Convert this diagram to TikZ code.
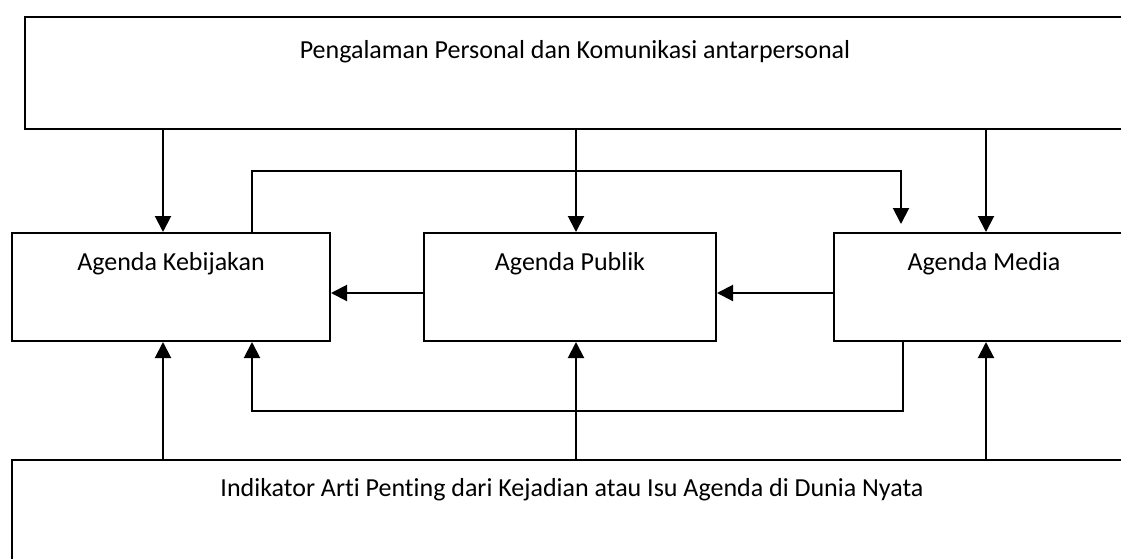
\documentclass[tikz,border=0pt]{standalone}
\usepackage{fontspec}
\setmainfont[Ligatures=NoCommon]{Carlito}
\usetikzlibrary{arrows.meta,calc}
\begin{document}
\begin{tikzpicture}[x=0.5pt,y=-0.5pt,
  line width=1pt,
  box/.style={draw, line width=1pt, rectangle, inner sep=0pt, anchor=north west},
  txt/.style={inner sep=0pt, font=\fontsize{13}{16}\selectfont},
  arr/.style={-{Triangle[length=8pt,width=8pt]}, line width=1pt}]
\useasboundingbox (0,0) rectangle (1121,558);
\clip (0,0) rectangle (1121,558);
% boxes
\node[box, minimum width=550pt, minimum height=56pt] (top) at (24,16) {};
\node[box, minimum width=159pt, minimum height=54pt] (keb) at (11,232) {};
\node[box, minimum width=146pt, minimum height=54pt] (pub) at (423,232) {};
\node[box, minimum width=150pt, minimum height=54pt] (med) at (833,232) {};
\node[box, minimum width=560pt, minimum height=60pt] (bot) at (11,459) {};
% texts
\node[txt] (ttop) at ($(top.north)+(0,36)$) {Pengalaman Personal dan Komunikasi antarpersonal};
\node[txt] (tkeb) at ($(keb.north)+(0,32)$) {Agenda Kebijakan};
\node[txt] (tpub) at ($(pub.north)+(0,32)$) {Agenda Publik};
\node[txt] (tmed) at ($(med.north)+(0,32)$) {Agenda Media};
\node[txt] (tbot) at ($(bot.north)+(0,31)$) {Indikator Arti Penting dari Kejadian atau Isu Agenda di Dunia Nyata};
% x positions
\coordinate (xa) at (163,0);
\coordinate (xb) at (576,0);
\coordinate (xc) at (986,0);
\coordinate (xl) at (252,0);
\coordinate (xr) at (903,0);
\coordinate (ym) at (0,293);
% top arrows
\draw[arr] (top.south -| xa) -- (keb.north -| xa);
\draw[arr] (top.south -| xb) -- (pub.north -| xb);
\draw[arr] (top.south -| xc) -- (med.north -| xc);
% bottom arrows
\draw[arr] (bot.north -| xa) -- (keb.south -| xa);
\draw[arr] (bot.north -| xb) -- (pub.south -| xb);
\draw[arr] (bot.north -| xc) -- (med.south -| xc);
% horizontal arrows
\draw[arr] (pub.west |- ym) -- (keb.east |- ym);
\draw[arr] (med.west |- ym) -- (pub.east |- ym);
% upper loop
\coordinate (u1) at (252,171);
\coordinate (u2) at (901,171);
\coordinate (u3) at (901,224);
\draw[arr] (keb.north -| xl) -- (u1) -- (u2) -- (u3);
% lower loop
\coordinate (d1) at (903,411);
\coordinate (d2) at (252,411);
\draw[arr] (med.south -| xr) -- (d1) -- (d2) -- (keb.south -| xl);
\end{tikzpicture}
\end{document}
